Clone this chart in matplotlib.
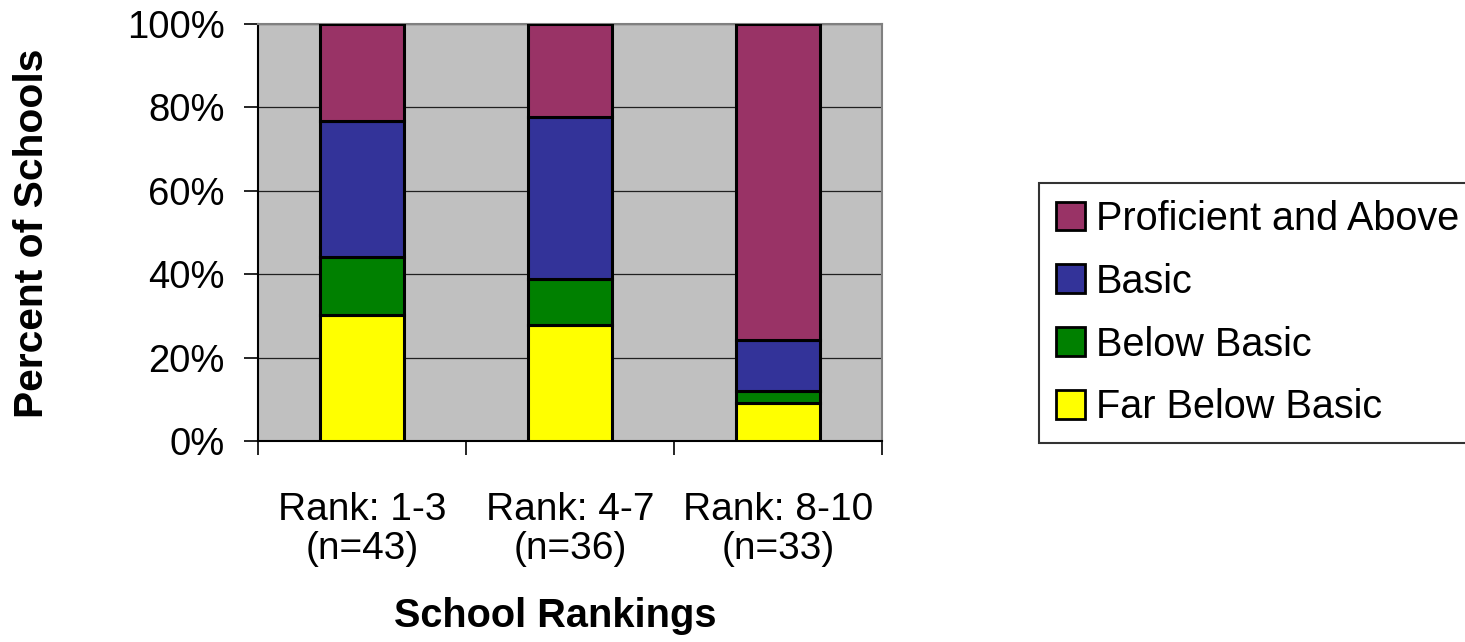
import numpy as np
import matplotlib
matplotlib.use('Agg')
from matplotlib import pyplot as plt
from matplotlib.patches import Patch
from matplotlib.ticker import FixedLocator, PercentFormatter

plt.rcParams['font.family'] = ['Liberation Sans', 'DejaVu Sans']

categories = ['Rank: 1-3\n(n=43)', 'Rank: 4-7\n(n=36)', 'Rank: 8-10\n(n=33)']
levels = ['Far Below Basic', 'Below Basic', 'Basic', 'Proficient and Above']
far_below = [30.2, 27.8, 9.1]
below = [14.0, 11.1, 3.0]
basic = [32.6, 38.9, 12.1]
proficient = [23.3, 22.2, 75.8]
level_colors = ['#FFFF00', '#008000', '#333399', '#993366']

W, H = 1465, 642
fig = plt.figure(figsize=(W / 100, H / 100), dpi=100)
ax = fig.add_axes([258 / W, 1 - 441 / H, 624 / W, 417 / H])
ax.set_facecolor('#C0C0C0')

x = np.arange(len(categories))
bottom = np.zeros(len(categories))
for vals, color, name in zip([far_below, below, basic, proficient], level_colors, levels):
    ax.bar(x, vals, width=0.4, bottom=bottom, color=color, edgecolor='black',
           linewidth=2.2, label=name, zorder=3)
    bottom += np.array(vals)

ax.set_xlim(-0.5, 2.5)
ax.set_ylim(0, 100)
ax.yaxis.set_major_locator(FixedLocator([0, 20, 40, 60, 80, 100]))
ax.yaxis.set_major_formatter(PercentFormatter(decimals=0))
ax.grid(axis='y', color='#202020', linewidth=0.9, zorder=1)

# category labels centred under bars, ticks on the category boundaries
ax.set_xticks(x)
ax.set_xticklabels(categories, fontsize=28, linespacing=1.1)
ax.set_xticks([-0.5, 0.5, 1.5, 2.5], minor=True)
ax.tick_params(axis='x', which='major', length=0, pad=37)
ax.tick_params(axis='x', which='minor', length=10, width=1.2, color='black', direction='out')
ax.tick_params(axis='y', labelsize=27.5, length=10, width=1.2, pad=14)

for side in ['top', 'right']:
    ax.spines[side].set_color('#808080')
    ax.spines[side].set_linewidth(1.5)
ax.spines['left'].set_linewidth(1.5)
ax.spines['bottom'].set_linewidth(1.5)

fig.text(43 / W, 1 - 233 / H, 'Percent of Schools', fontsize=29.3, fontweight='bold',
         rotation=90, rotation_mode='anchor', ha='center', va='baseline')
fig.text(555 / W, 1 - 627 / H, 'School Rankings', fontsize=28.6, fontweight='bold',
         ha='center', va='baseline')

handles = [Patch(facecolor=c, edgecolor='black', linewidth=2, label=n)
           for c, n in zip(level_colors[::-1], levels[::-1])]
leg = fig.legend(handles=handles, loc='upper left', bbox_to_anchor=(1039 / W, 1 - 183 / H),
                 fontsize=28.5, frameon=True, fancybox=False, edgecolor='black',
                 handlelength=0.73, handleheight=0.73, handletextpad=0.28,
                 labelspacing=0.63, borderpad=0.42, borderaxespad=0)
leg.get_frame().set_linewidth(1.5)

fig.savefig('out.png', dpi=100)
